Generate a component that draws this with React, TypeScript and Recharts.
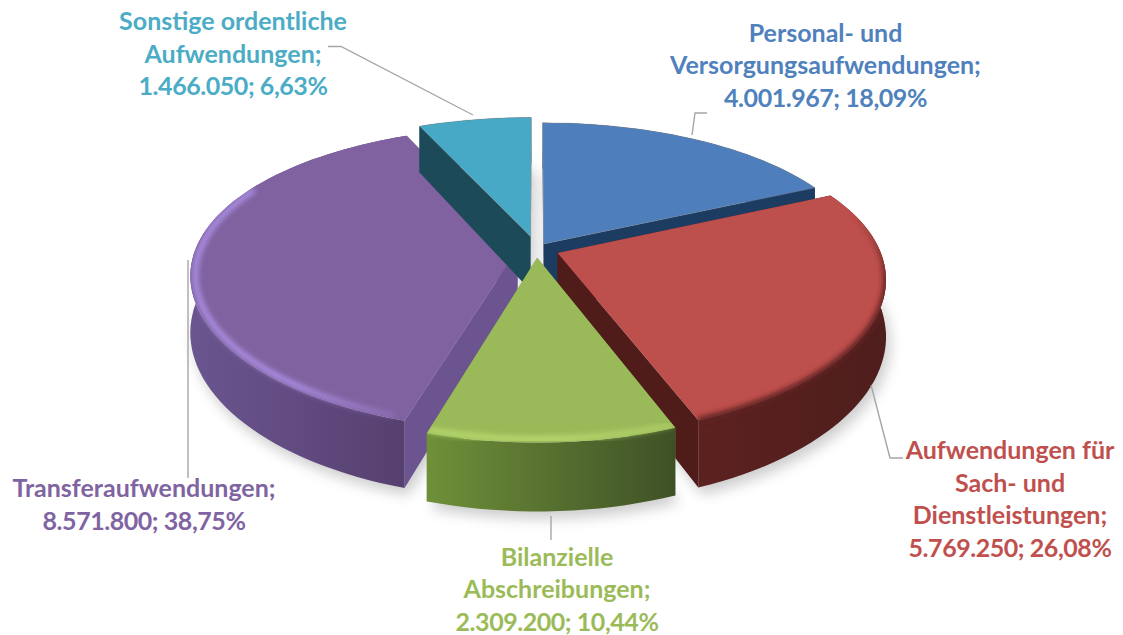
import { Pie, PieChart } from 'recharts';

// slices start with the purple one so the back slices get painted first
const categories = [
  'Transferaufwendungen',
  'Sonstige ordentliche Aufwendungen',
  'Personal- und Versorgungsaufwendungen',
  'Aufwendungen für Sach- und Dienstleistungen',
  'Bilanzielle Abschreibungen',
];
const amounts = [8571800, 1466050, 4001967, 5769250, 2309200];
const labelLines = [
  ['Transferaufwendungen;', '8.571.800; 38,75%'],
  ['Sonstige ordentliche', 'Aufwendungen;', '1.466.050; 6,63%'],
  ['Personal- und', 'Versorgungsaufwendungen;', '4.001.967; 18,09%'],
  ['Aufwendungen für', 'Sach- und', 'Dienstleistungen;', '5.769.250; 26,08%'],
  ['Bilanzielle', 'Abschreibungen;', '2.309.200; 10,44%'],
];

const TOP = ['#8062a0', '#47a9c5', '#4e7fbc', '#bd4f4c', '#9aba59'];
const TEXT = ['#8064a2', '#4bacc6', '#4f81bd', '#c0504d', '#9bbb59'];
const WALL_L = ['#6b5590', '#1c4a58', '#1d3c62', '#5c2220', '#6f9039'];
const WALL_R = ['#56406f', '#1c4a58', '#1d3c62', '#4e1e1c', '#3e5126'];
const RADIAL = ['#6b5490', '#1c4a58', '#1d3c62', '#4f1c1a', '#6f9039'];
const RIM = ['#a98ce0', '#47a9c5', '#4e7fbc', '#5e2220', '#b8da6e'];
const EXPLODE = [0.059, 0.09, 0.042, 0.07, 0.06];

const LABEL_POS = [
  { x: 144, y: 497 },
  { x: 233, y: 30 },
  { x: 825.5, y: 41.5 },
  { x: 1010, y: 459 },
  { x: 557, y: 565.5 },
];
const LEADERS = [
  '188,260 188,478',
  '328,46.5 341,46.5 473,115',
  '692,135 695,113 707,113',
  '871,385 890,458 903,458',
  '551,516 551,540',
];

const WIDTH = 1123;
const HEIGHT = 635;
const CX = 536.5;
const CY = 249;
const RX = 322;
const SQUASH = 0.453;
const PERSP_X = 0.165;
const PERSP_Y = 0.19;
const DEPTH = 55;

const data = categories.map((name, i) => ({ name, value: amounts[i], idx: i }));

// a = degrees clockwise from the top of the pie, r = 0..1, z = 0 top face, 1 bottom face
function project(a: number, r: number, mid: number, z: number, e: number): [number, number] {
  const rad = (a * Math.PI) / 180;
  const m = (mid * Math.PI) / 180;
  const u = e * Math.sin(m) + r * Math.sin(rad);
  const v = -(e * Math.cos(m) + r * Math.cos(rad));
  const kx = 1 / (1 - PERSP_X * v);
  const ky = 1 / (1 - PERSP_Y * v);
  return [CX + RX * u * kx, CY + RX * SQUASH * v * ky + DEPTH * z * ky];
}

function pts(list: [number, number][]) {
  return list.map((p) => `${p[0].toFixed(1)},${p[1].toFixed(1)}`).join(' ');
}

function arc(a0: number, a1: number, mid: number, z: number, e: number, r = 1) {
  const out: [number, number][] = [];
  const steps = Math.max(4, Math.ceil((a1 - a0) / 2));
  for (let i = 0; i <= steps; i++) out.push(project(a0 + ((a1 - a0) * i) / steps, r, mid, z, e));
  return out;
}

function angles(props: any) {
  const a0 = 90 - props.startAngle;
  const a1 = 90 - props.endAngle;
  return { a0, a1, mid: (a0 + a1) / 2 };
}

function ShadowShape(props: any) {
  const { a0, a1, mid } = angles(props);
  const idx = props.payload?.idx ?? props.idx;
  const e = EXPLODE[idx];
  const id = `soft-${idx}`;
  const outline = [project(a0, 0, mid, 1, e), ...arc(a0, a1, mid, 1, e)];
  return (
    <g>
      <defs>
        <filter id={id} x="-20%" y="-20%" width="140%" height="140%">
          <feGaussianBlur stdDeviation="7" />
        </filter>
      </defs>
      <polygon points={pts(outline)} fill="#000" opacity={0.2} transform="translate(4 7)" filter={`url(#${id})`} />
    </g>
  );
}

function SliceShape(props: any) {
  const { a0, a1, mid } = angles(props);
  const idx = props.payload?.idx ?? props.idx;
  const e = EXPLODE[idx];
  const top = [project(a0, 0, mid, 0, e), ...arc(a0, a1, mid, 0, e)];
  const outerWall = [...arc(a0, a1, mid, 0, e), ...arc(a0, a1, mid, 1, e).reverse()];
  const wallA = [0, 1, 1, 0].map((r, i) => project(a0, r, mid, i > 1 ? 1 : 0, e));
  const wallB = [0, 1, 1, 0].map((r, i) => project(a1, r, mid, i > 1 ? 1 : 0, e));

  // the bevel only shows along the front and side of the rim, fading towards the back
  let rimFrom = a0;
  let rimTo = a1;
  if (idx === 0) {
    rimFrom = a0 + 2;
    rimTo = a0 + 100;
  }
  if (idx === 3) rimFrom = a0 + 8;
  const rim = arc(rimFrom, rimTo, mid, 0, e, idx === 3 ? 1 : 0.985);
  const showRim = idx === 0 || idx === 3 || idx === 4;
  const isBack = idx === 1 || idx === 2;

  return (
    <g>
      <defs>
        <linearGradient id={`wall-${idx}`} x1="0" y1="0" x2="1" y2="0">
          <stop offset="0" stopColor={WALL_L[idx]} />
          <stop offset="1" stopColor={WALL_R[idx]} />
        </linearGradient>
        {idx === 3 ? (
          <linearGradient id="rimfade-3" x1="0" y1="0" x2="0" y2="1">
            <stop offset="0" stopColor={RIM[3]} stopOpacity={0} />
            <stop offset="0.35" stopColor={RIM[3]} stopOpacity={1} />
          </linearGradient>
        ) : (
          <linearGradient id={`rimfade-${idx}`} x1="0" y1="0" x2="1" y2="0">
            <stop offset="0" stopColor={RIM[idx]} stopOpacity={idx === 0 ? 1 : 0.85} />
            <stop offset="0.5" stopColor={RIM[idx]} stopOpacity={1} />
            <stop offset="1" stopColor={RIM[idx]} stopOpacity={idx === 0 ? 0.25 : 0.5} />
          </linearGradient>
        )}
        <filter id={`rim-${idx}`} x="-10%" y="-10%" width="120%" height="120%">
          <feGaussianBlur stdDeviation="2.5" />
        </filter>
        <clipPath id={`clip-${idx}`}>
          <polygon points={pts(top)} />
          <polygon points={pts(outerWall)} />
        </clipPath>
      </defs>
      <polygon points={pts(wallA)} fill={RADIAL[idx]} />
      <polygon points={pts(wallB)} fill={RADIAL[idx]} />
      <polygon points={pts(outerWall)} fill={`url(#wall-${idx})`} />
      <polygon
        points={pts(top)}
        fill={TOP[idx]}
        stroke={isBack ? '#8a8a8a' : 'none'}
        strokeOpacity={0.35}
        strokeWidth={1}
      />
      {showRim && (
        <g clipPath={`url(#clip-${idx})`}>
          <polyline
            points={pts(rim)}
            fill="none"
            stroke={`url(#rimfade-${idx})`}
            strokeWidth={6}
            filter={`url(#rim-${idx})`}
          />
        </g>
      )}
    </g>
  );
}

function renderLabel(props: any) {
  const i = props.payload?.idx ?? props.index;
  const pos = LABEL_POS[i];
  const lines = labelLines[i];
  return (
    <g key={i}>
      <polyline points={LEADERS[i]} fill="none" stroke="#a6a6a6" strokeWidth={1.4} />
      <text
        textAnchor="middle"
        fontFamily="Lato, 'Open Sans', sans-serif"
        fontWeight={700}
        fontSize={25}
        fill={TEXT[i]}
      >
        {lines.map((line, n) => (
          <tspan key={n} x={pos.x} y={pos.y + n * 32.5} letterSpacing={n === lines.length - 1 ? -0.45 : 0}>
            {line}
          </tspan>
        ))}
      </text>
    </g>
  );
}

export default function App() {
  return (
    <div style={{ position: 'absolute', left: 0, top: 0, width: WIDTH, height: HEIGHT, background: '#fff' }}>
      <PieChart width={WIDTH} height={HEIGHT} margin={{ top: 0, right: 0, bottom: 0, left: 0 }}>
        <Pie
          data={data}
          dataKey="value"
          cx={CX}
          cy={CY}
          outerRadius={RX}
          startAngle={-106.6}
          endAngle={-466.6}
          stroke="none"
          isAnimationActive={false}
          shape={ShadowShape}
        />
        <Pie
          data={data}
          dataKey="value"
          cx={CX}
          cy={CY}
          outerRadius={RX}
          startAngle={-106.6}
          endAngle={-466.6}
          stroke="none"
          isAnimationActive={false}
          shape={SliceShape}
          label={renderLabel}
          labelLine={false}
        />
      </PieChart>
    </div>
  );
}
